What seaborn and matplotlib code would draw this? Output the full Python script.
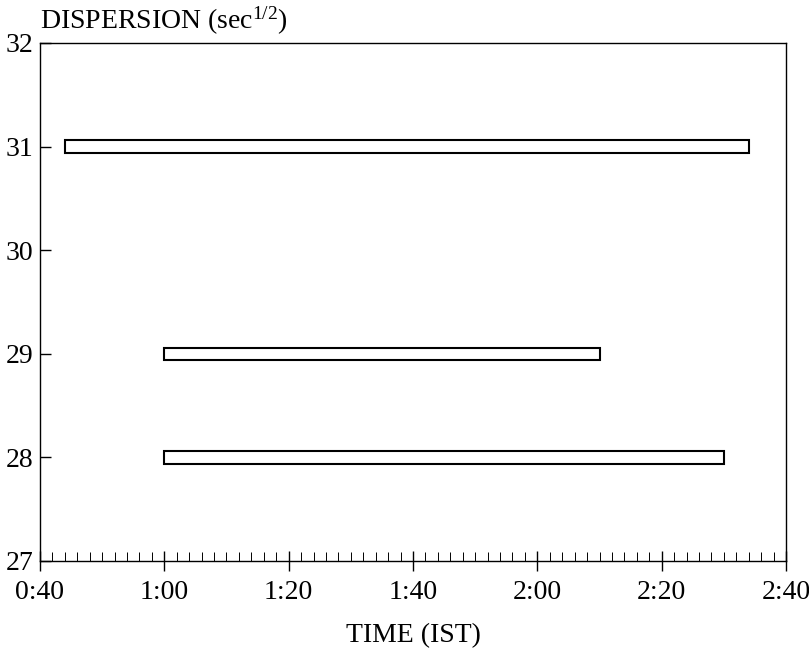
#!/usr/bin/env python3

import numpy as np
import pandas as pd
import matplotlib.pyplot as plt
import seaborn as sns
from matplotlib.ticker import MultipleLocator, FuncFormatter


SET_DPI = 100
FIGSIZE = (8.09, 6.52)

# dispersion levels (sec^1/2) and observed time spans, minutes after 0:00 IST
DISPERSION = [31, 29, 28]
START_MIN = [44, 60, 60]
END_MIN = [154, 130, 150]

X_TICKS = [40, 60, 80, 100, 120, 140, 160]
Y_TICKS = [27, 28, 29, 30, 31, 32]


def hhmm(m, pos=None):
    m = int(round(m))
    return f'{m // 60}:{m % 60:02d}'


sns.set_theme(style='ticks')
plt.rcParams['font.family'] = ['Liberation Serif', 'DejaVu Serif']
plt.rcParams['mathtext.fontset'] = 'custom'
plt.rcParams['mathtext.rm'] = 'Liberation Serif'
plt.rcParams['mathtext.it'] = 'Liberation Serif:italic'
for key in ['text.color', 'axes.labelcolor', 'xtick.color', 'ytick.color',
            'xtick.labelcolor', 'ytick.labelcolor']:
    plt.rcParams[key] = 'black'

data = pd.DataFrame({'disp': DISPERSION, 'start': START_MIN, 'end': END_MIN})
data['span'] = data['end'] - data['start']

fig = plt.figure(figsize=FIGSIZE, dpi=SET_DPI)
ax = fig.add_axes([0.0494, 0.1396, 0.9222, 0.7945])

ax.barh(data['disp'], data['span'], left=data['start'], height=0.12,
        facecolor='white', edgecolor='black', linewidth=1.5)

ax.set_xlim(X_TICKS[0], X_TICKS[-1])
ax.set_ylim(Y_TICKS[0], Y_TICKS[-1])
ax.set_xticks(X_TICKS)
ax.set_yticks(Y_TICKS)
ax.xaxis.set_major_formatter(FuncFormatter(hhmm))
ax.xaxis.set_minor_locator(MultipleLocator(2))

ax.tick_params(axis='x', which='major', direction='inout', length=15, width=1,
               color='black', labelsize=20, pad=6)
ax.tick_params(axis='x', which='minor', direction='in', length=6.5, width=0.7,
               color='black')
ax.tick_params(axis='y', which='major', direction='in', length=8, width=1,
               color='black', labelsize=20, pad=5)

for side in ['left', 'right', 'top', 'bottom']:
    ax.spines[side].set_visible(True)
    ax.spines[side].set_color('black')
    ax.spines[side].set_linewidth(1.0)

ax.set_xlabel('TIME (IST)', fontsize=20, labelpad=13)
ax.set_ylabel('')
ax.annotate(r'DISPERSION (sec$^{\mathrm{1/2}}$)', xy=(0, 1), xycoords='axes fraction',
            xytext=(0, 10), textcoords='offset points', ha='left', va='baseline',
            fontsize=20)

plt.savefig('out.png', dpi=SET_DPI)
plt.close('all')
